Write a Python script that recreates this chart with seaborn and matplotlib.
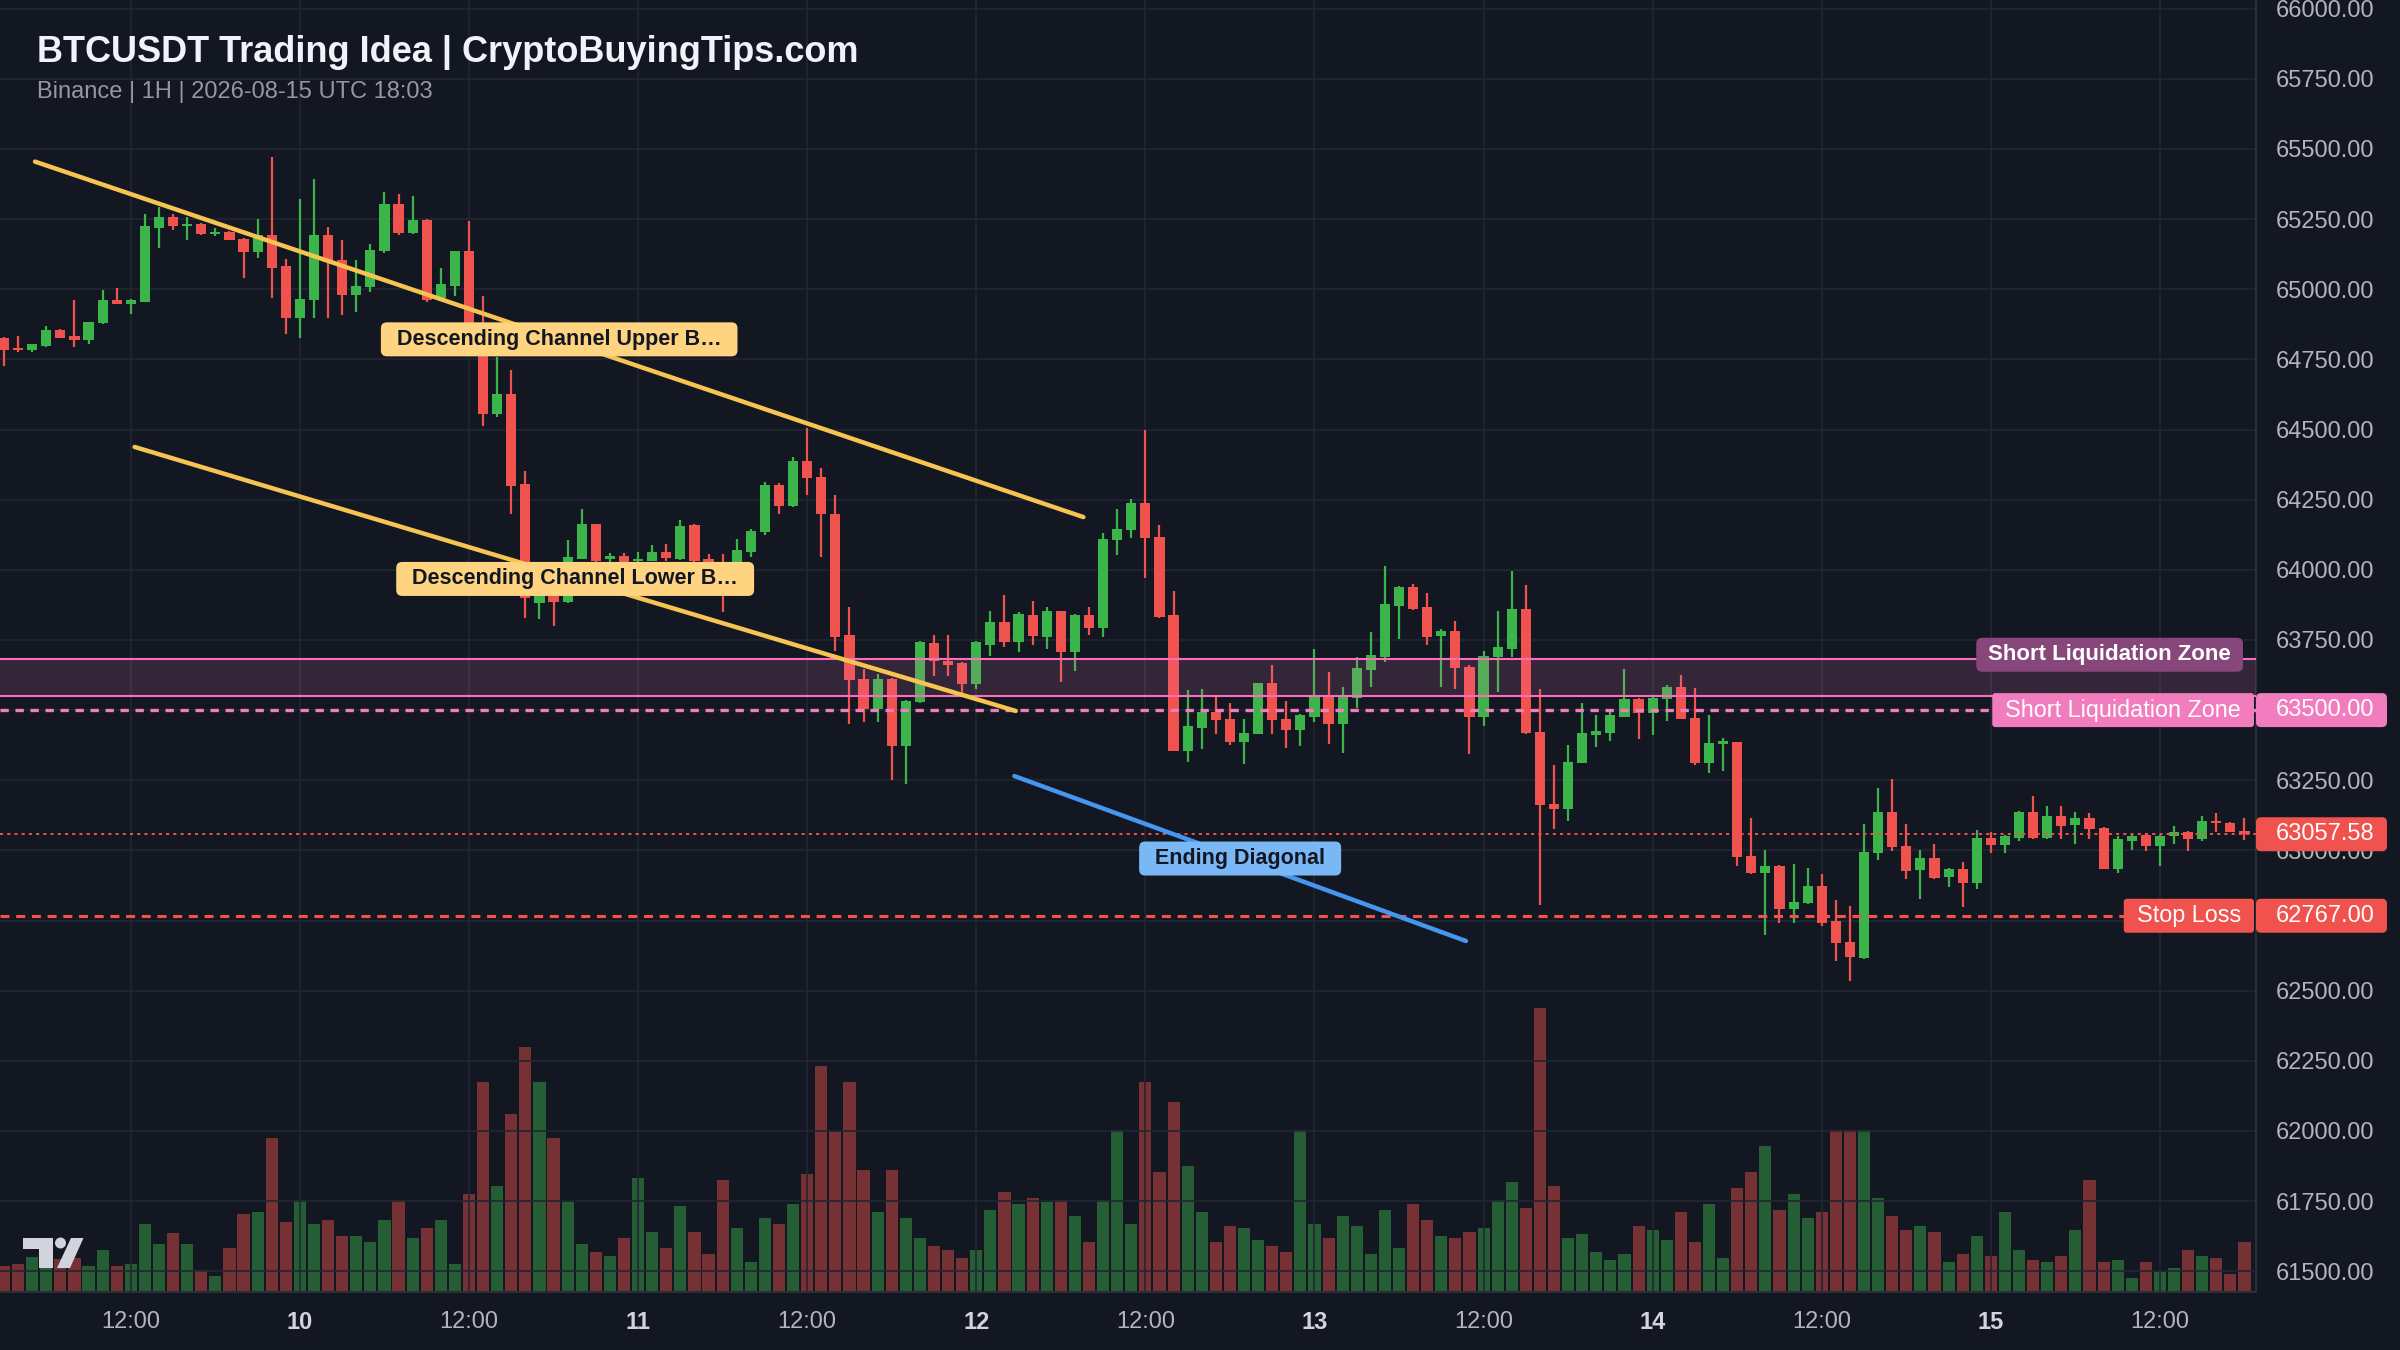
import numpy as np
import pandas as pd
import matplotlib
matplotlib.use("Agg")
import matplotlib.pyplot as plt
import matplotlib.dates as mdates
import matplotlib.transforms as mtransforms
from matplotlib.colors import to_rgba
from matplotlib.patches import FancyBboxPatch, Polygon, Circle, Rectangle
import seaborn as sns

# ---------------- data ----------------
first_bar = "2026-08-09 03:00"   # hourly candles

opens = [64825, 64790, 64785, 64797, 64854, 64833, 64819, 64878, 64961, 64949,
         64955, 65219, 65259, 65224, 65231, 65198, 65204, 65180, 65133, 65194,
         65082, 64899, 64963, 65194, 65103, 64979, 65008, 65135, 65305, 65200,
         65248, 64968, 65012, 65135, 64855, 64555, 64626, 64305, 63880, 63930,
         63885, 64039, 64162, 64040, 64050, 64031, 64033, 64063, 64039, 64158,
         64040, 64010, 63960, 64063, 64135, 64302, 64227, 64387, 64331, 64200,
         63769, 63611, 63505, 63611, 63371, 63528, 63738, 63674, 63667, 63593,
         63733, 63813, 63742, 63840, 63762, 63852, 63706, 63840, 63793, 64105,
         64141, 64239, 64117, 63840, 63356, 63437, 63493, 63469, 63386, 63416,
         63596, 63469, 63428, 63477, 63552, 63449, 63544, 63643, 63691, 63872,
         63940, 63868, 63765, 63783, 63655, 63477, 63691, 63718, 63860, 63422,
         63166, 63148, 63312, 63411, 63419, 63476, 63538, 63491, 63541, 63583,
         63473, 63312, 63378, 63386, 62981, 62919, 62946, 62791, 62812, 62874,
         62747, 62672, 62616, 62991, 63136, 63015, 62929, 62973, 62906, 62932,
         62885, 63044, 63020, 63044, 63138, 63044, 63123, 63091, 63114, 63079,
         62932, 63032, 63055, 63017, 63050, 63065, 63040, 63103, 63099, 63070]

highs = [64830, 64833, 64806, 64868, 64860, 64961, 64884, 64996, 65005, 64967,
         65267, 65293, 65267, 65257, 65235, 65219, 65208, 65182, 65251, 65473,
         65109, 65322, 65393, 65222, 65174, 65103, 65160, 65346, 65340, 65333,
         65250, 65075, 65137, 65242, 64976, 64760, 64712, 64352, 63940, 63945,
         64105, 64218, 64165, 64060, 64060, 64063, 64087, 64093, 64176, 64162,
         64057, 64057, 64111, 64145, 64313, 64310, 64402, 64506, 64364, 64267,
         63868, 63647, 63627, 63615, 63536, 63748, 63769, 63769, 63670, 63745,
         63852, 63911, 63848, 63890, 63868, 63855, 63842, 63868, 64133, 64216,
         64251, 64500, 64160, 63923, 63572, 63576, 63548, 63525, 63469, 63598,
         63662, 63534, 63486, 63718, 63635, 63584, 63691, 63777, 64014, 63942,
         63949, 63919, 63789, 63819, 63660, 63712, 63854, 63996, 63945, 63574,
         63303, 63374, 63524, 63481, 63502, 63645, 63544, 63552, 63588, 63624,
         63580, 63481, 63401, 63388, 63116, 63003, 62948, 62953, 62937, 62917,
         62824, 62803, 63095, 63223, 63253, 63095, 63000, 63024, 62936, 62958,
         63071, 63064, 63055, 63140, 63193, 63158, 63158, 63138, 63134, 63085,
         63050, 63055, 63059, 63055, 63087, 63068, 63123, 63132, 63102, 63114]

lows = [64726, 64778, 64777, 64795, 64826, 64793, 64804, 64876, 64947, 64911,
        64953, 65148, 65212, 65174, 65195, 65190, 65175, 65041, 65113, 64970,
        64842, 64828, 64899, 64899, 64908, 64919, 64990, 65130, 65194, 65198,
        64956, 64965, 64976, 64850, 64512, 64543, 64200, 63829, 63826, 63801,
        63883, 64037, 64025, 64020, 63985, 64027, 64030, 64033, 64035, 64010,
        63980, 63849, 63908, 64045, 64123, 64198, 64225, 64267, 64046, 63712,
        63449, 63457, 63457, 63250, 63238, 63526, 63620, 63620, 63556, 63576,
        63694, 63726, 63706, 63733, 63718, 63600, 63641, 63769, 63762, 64053,
        64113, 63970, 63830, 63354, 63315, 63362, 63416, 63374, 63309, 63414,
        63416, 63366, 63371, 63457, 63378, 63348, 63508, 63584, 63671, 63753,
        63858, 63733, 63584, 63576, 63345, 63442, 63564, 63688, 63416, 62806,
        63076, 63104, 63310, 63369, 63389, 63474, 63398, 63410, 63461, 63467,
        63306, 63276, 63282, 62943, 62917, 62699, 62741, 62741, 62810, 62729,
        62604, 62533, 62614, 62967, 62997, 62898, 62828, 62899, 62870, 62800,
        62863, 62991, 62991, 63032, 63040, 63042, 63040, 63024, 63040, 62932,
        62918, 63002, 62997, 62946, 63024, 62997, 63035, 63064, 63064, 63038]

closes = [64783, 64783, 64804, 64854, 64828, 64819, 64884, 64961, 64949, 64961,
          65224, 65257, 65224, 65231, 65198, 65204, 65177, 65133, 65192, 65076,
          64899, 64967, 65194, 65097, 64979, 65011, 65139, 65304, 65200, 65248,
          64960, 65018, 65135, 64855, 64555, 64626, 64299, 63900, 63920, 63885,
          64045, 64164, 64033, 64050, 64000, 64039, 64063, 64043, 64155, 64030,
          64000, 63950, 64069, 64140, 64304, 64227, 64387, 64326, 64198, 63762,
          63608, 63505, 63611, 63371, 63534, 63742, 63674, 63662, 63593, 63742,
          63813, 63742, 63842, 63765, 63852, 63706, 63840, 63793, 64109, 64145,
          64239, 64113, 63833, 63356, 63442, 63493, 63466, 63386, 63418, 63596,
          63466, 63428, 63484, 63552, 63449, 63548, 63650, 63698, 63878, 63940,
          63860, 63762, 63783, 63650, 63477, 63694, 63724, 63860, 63419, 63163,
          63148, 63314, 63417, 63425, 63481, 63538, 63491, 63544, 63583, 63469,
          63312, 63381, 63389, 62976, 62919, 62946, 62791, 62815, 62874, 62741,
          62669, 62620, 62993, 63136, 63012, 62927, 62973, 62902, 62934, 62885,
          63044, 63020, 63052, 63138, 63044, 63123, 63087, 63114, 63075, 62934,
          63040, 63052, 63017, 63052, 63067, 63040, 63103, 63097, 63067, 63057.58]

volumes = [180, 194, 245, 210, 231, 238, 180, 292, 180, 194,
           474, 334, 415, 334, 152, 110, 306, 544, 558, 1076,
           488, 642, 474, 502, 390, 390, 348, 502, 642, 376,
           446, 502, 194, 684, 1468, 740, 1244, 1706, 1468, 1076,
           628, 334, 278, 250, 376, 796, 418, 306, 600, 418,
           264, 782, 446, 208, 516, 474, 614, 824, 1580, 1118,
           1468, 852, 558, 852, 516, 376, 320, 292, 236, 292,
           572, 698, 614, 656, 628, 642, 530, 348, 642, 1132,
           474, 1468, 838, 1328, 880, 558, 348, 460, 446, 362,
           320, 278, 1132, 474, 376, 530, 460, 264, 572, 306,
           614, 502, 390, 376, 418, 446, 642, 768, 586, 1983,
           740, 376, 404, 278, 222, 264, 460, 432, 362, 558,
           348, 614, 236, 726, 838, 1020, 572, 684, 516, 558,
           1132, 1132, 1132, 656, 530, 432, 460, 418, 208, 264,
           390, 250, 558, 292, 222, 208, 250, 432, 782, 208,
           222, 96, 208, 138, 166, 292, 250, 236, 124, 348]

price_ticks = list(range(61500, 66001, 250))
time_ticks = pd.date_range("2026-08-09 12:00", "2026-08-15 12:00", freq="12h")
view_start, view_end = "2026-08-09 02:43", "2026-08-15 18:49"
price_min, price_max = 61426, 66031

upper_channel_t = ["2026-08-09 05:12", "2026-08-12 07:36"]
upper_channel_p = [65455, 64188]
lower_channel_t = ["2026-08-09 12:16", "2026-08-12 02:48"]
lower_channel_p = [64438, 63497]
ending_diag_t = ["2026-08-12 02:42", "2026-08-13 10:45"]
ending_diag_p = [63265, 62677]

zone_low, zone_high = 63552, 63683
short_liq_level = 63500.00
last_price = 63057.58
stop_loss = 62767.00

title = "BTCUSDT Trading Idea | CryptoBuyingTips.com"
subtitle = "Binance | 1H | 2026-08-15 UTC 18:03"

# ---------------- style ----------------
W, H, DPI = 2400, 1350, 100
BG = "#131722"
GRID = "#222633"
AXLINE = "#2a2e39"
TXT = "#b2b5be"
UP = "#3bb54a"
DOWN = "#f0524d"
PINK = "#f27dbe"
ZONE_LINE = "#ff6bbd"
YEL = "#f5c451"
YEL_BOX = "#ffd480"
BLUE = "#4596ef"
BLUE_BOX = "#7ab8f5"
MAUVE = "#87477a"
DARK = "#131722"

sns.set_theme(style="dark", rc={
    "axes.facecolor": BG, "figure.facecolor": BG, "savefig.facecolor": BG,
    "grid.color": GRID, "axes.edgecolor": AXLINE, "text.color": TXT,
    "xtick.color": TXT, "ytick.color": TXT,
})
plt.rcParams["font.family"] = ["Liberation Sans", "DejaVu Sans"]
plt.rcParams["lines.scale_dashes"] = False

fig = plt.figure(figsize=(W / DPI, H / DPI), dpi=DPI)
PLOT_R, PLOT_B = 2256, 1292
rect = [0, (H - PLOT_B) / H, PLOT_R / W, PLOT_B / H]
ax_vol = fig.add_axes(rect)
ax = fig.add_axes(rect, sharex=ax_vol)
ax.patch.set_visible(False)
ax_vol.set_facecolor(BG)

x = mdates.date2num(pd.date_range(first_bar, periods=len(opens), freq="h"))
o, h, l, c = (np.array(a, dtype=float) for a in (opens, highs, lows, closes))
up = c >= o
cols = np.where(up, UP, DOWN)

# volume (own axis, behind price)
vcols = [to_rgba(cc, 0.45) for cc in cols]
ax_vol.bar(x, volumes, width=0.86 / 24, color=vcols, linewidth=0)
ax_vol.set_ylim(0, max(volumes) / 0.22)
ax_vol.set_yticks([])
ax_vol.tick_params(axis="x", labelbottom=False, length=0)
ax_vol.grid(False)
for s in ax_vol.spines.values():
    s.set_visible(False)

# grid
ax.grid(True, color=GRID, lw=1.2, zorder=0)
ax.set_axisbelow(True)

# candles
ax.vlines(x, l, h, colors=cols, lw=1.6, zorder=3)
ax.bar(x, np.maximum(np.abs(c - o), 4), bottom=np.minimum(o, c), width=0.72 / 24,
       color=cols, linewidth=0, zorder=4)

# zone & price lines
ax.axhspan(zone_low, zone_high, color=PINK, alpha=0.15, lw=0, zorder=5)
ax.axhline(zone_low, color=ZONE_LINE, lw=1.5, zorder=5)
ax.axhline(zone_high, color=ZONE_LINE, lw=1.5, zorder=5)
ax.axhline(short_liq_level, color=PINK, lw=2.4, ls=(0, (6, 4.8)), zorder=5)
ax.axhline(last_price, color=DOWN, lw=1.4, ls=(0, (2.2, 3.0)), zorder=5)
ax.axhline(stop_loss, color=DOWN, lw=2.2, ls=(0, (6.5, 4.8)), zorder=5)

# trend lines (seaborn)
lines = [(upper_channel_t, upper_channel_p, YEL),
         (lower_channel_t, lower_channel_p, YEL),
         (ending_diag_t, ending_diag_p, BLUE)]
line_xy = []
for tt, pp, col in lines:
    xx = mdates.date2num(pd.to_datetime(tt))
    sns.lineplot(x=xx, y=pp, ax=ax, color=col, linewidth=3.2, zorder=6,
                 solid_capstyle="round", legend=False)
    line_xy.append((xx.mean(), float(np.mean(pp))))
ax.set_xlabel("")
ax.set_ylabel("")

# axes limits/ticks
ax.set_xlim(mdates.date2num(pd.Timestamp(view_start)), mdates.date2num(pd.Timestamp(view_end)))
ax.set_ylim(price_min, price_max)
ax.yaxis.tick_right()
ax.set_yticks(price_ticks)
# labels fully hidden behind the price tags are left blank
hidden = {round(short_liq_level), 62750}
ax.set_yticklabels(["" if v in hidden else f"{v:.2f}" for v in price_ticks])
ax.tick_params(axis="y", length=0, pad=14.4, labelsize=17, colors=TXT)
ax.set_xticks(mdates.date2num(time_ticks))
ax.set_xticklabels([str(t.day) if t.hour == 0 else t.strftime("%H:%M") for t in time_ticks])
ax.tick_params(axis="x", length=0, pad=14, labelsize=17, colors=TXT)
for t, lab in zip(time_ticks, ax.get_xticklabels()):
    if t.hour == 0:
        lab.set_fontweight("bold")
        lab.set_color("#d1d4dc")
for side in ("top", "left"):
    ax.spines[side].set_visible(False)
for side in ("right", "bottom"):
    ax.spines[side].set_color(AXLINE)
    ax.spines[side].set_linewidth(1.5)

# ---------------- labels ----------------
fig.canvas.draw()
renderer = fig.canvas.get_renderer()
ident = mtransforms.IdentityTransform()


def label(xp, yp, s, fc, tc, size=15.5, weight="bold", ha="center", padx=16, box_h=34,
          rounding=6, z=8):
    t = fig.text(xp, yp, s, transform=ident, ha=ha, va="center", fontsize=size,
                 fontweight=weight, color=tc, zorder=z + 1)
    bb = t.get_window_extent(renderer)
    p = FancyBboxPatch((bb.x0 - padx, yp - box_h / 2), bb.width + 2 * padx, box_h,
                       boxstyle=f"round,pad=0,rounding_size={rounding}",
                       transform=ident, fc=fc, ec="none", zorder=z)
    fig.add_artist(p)
    return t


def axis_tag(price, s, fc):
    _, yp = ax.transData.transform((0, price))
    p = FancyBboxPatch((PLOT_R, yp - 17), 131, 34, boxstyle="round,pad=0,rounding_size=5",
                       transform=ident, fc=fc, ec="none", zorder=10)
    fig.add_artist(p)
    fig.text(2276, yp, s, transform=ident, ha="left", va="center", fontsize=17,
             color="white", zorder=11)


box_cols = [(YEL_BOX, "Descending Channel Upper B…"),
            (YEL_BOX, "Descending Channel Lower B…"),
            (BLUE_BOX, "Ending Diagonal")]
for (mx, my), (fc, s) in zip(line_xy, box_cols):
    xp, yp = ax.transData.transform((mx, my))
    label(xp, yp, s, fc, DARK)

_, y_zone = ax.transData.transform((0, zone_high))
label(2243 - 12, y_zone + 4, "Short Liquidation Zone", MAUVE, "white", size=16, ha="right", padx=12)
_, y_sl = ax.transData.transform((0, short_liq_level))
label(2254 - 13, y_sl, "Short Liquidation Zone", PINK, "white", size=16.8, weight="normal",
      ha="right", padx=13, rounding=3)
_, y_stop = ax.transData.transform((0, stop_loss))
label(2254 - 13, y_stop, "Stop Loss", DOWN, "white", size=16.8, weight="normal",
      ha="right", padx=13, rounding=3)

axis_tag(short_liq_level, f"{short_liq_level:.2f}", PINK)
axis_tag(last_price, f"{last_price:.2f}", DOWN)
axis_tag(stop_loss, f"{stop_loss:.2f}", DOWN)

# title
fig.text(37, H - 62, title, transform=ident, ha="left", va="baseline", fontsize=26,
         fontweight="bold", color="#f0f3fa", zorder=12)
fig.text(37, H - 98, subtitle, transform=ident, ha="left", va="baseline", fontsize=17,
         color="#9598a1", zorder=12)

# TradingView-style logo
LOGO = "#d1d4dc"
fig.add_artist(Rectangle((23, H - 1249), 30, 11, transform=ident, fc=LOGO, ec="none", zorder=12))
fig.add_artist(Rectangle((39, H - 1268), 14, 30, transform=ident, fc=LOGO, ec="none", zorder=12))
fig.add_artist(Circle((60.5, H - 1243), 5.5, transform=ident, fc=LOGO, ec="none", zorder=12))
fig.add_artist(Polygon([(71, H - 1238), (83.5, H - 1238), (70, H - 1268), (57, H - 1268)],
                       closed=True, transform=ident, fc=LOGO, ec="none", zorder=12))

fig.savefig("out.png", dpi=DPI, facecolor=BG)
